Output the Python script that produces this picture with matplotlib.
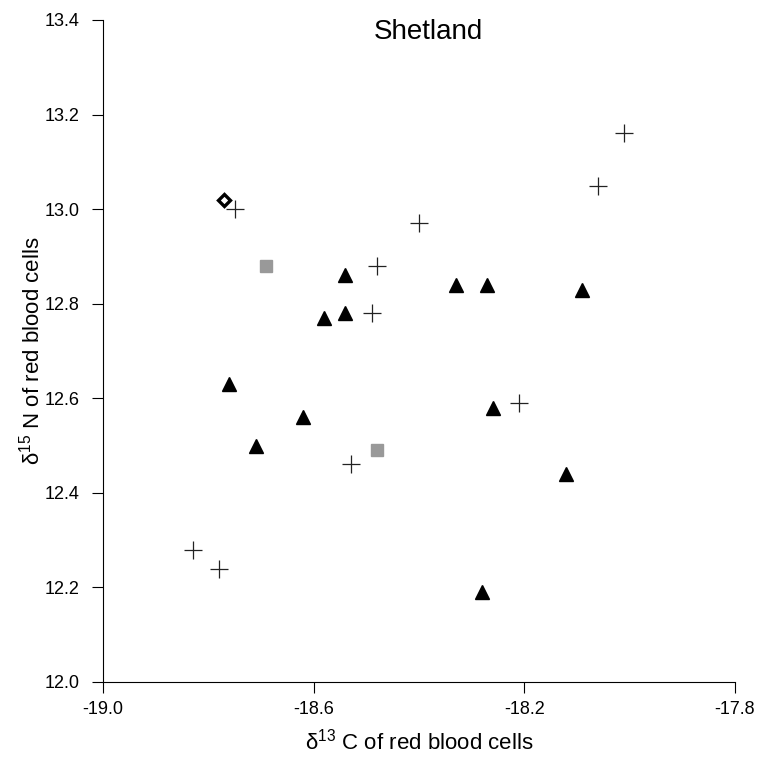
import numpy as np
import matplotlib
matplotlib.use('Agg')
import matplotlib.pyplot as plt

plt.rcParams['font.family'] = ['Liberation Sans', 'DejaVu Sans']
plt.rcParams['mathtext.fontset'] = 'custom'
plt.rcParams['mathtext.rm'] = 'Liberation Sans'

# plus markers
plus_x = [-18.75, -18.83, -18.78, -18.48, -18.49, -18.53, -18.40, -18.21, -18.06, -18.01]
plus_y = [13.00, 12.28, 12.24, 12.88, 12.78, 12.46, 12.97, 12.59, 13.05, 13.16]

# filled triangles
tri_x = [-18.76, -18.71, -18.62, -18.58, -18.54, -18.54, -18.33, -18.27, -18.26, -18.09, -18.12, -18.28]
tri_y = [12.63, 12.50, 12.56, 12.77, 12.78, 12.86, 12.84, 12.84, 12.58, 12.83, 12.44, 12.19]

# grey squares
sq_x = [-18.69, -18.48]
sq_y = [12.88, 12.49]

# open diamond
dia_x = [-18.77]
dia_y = [13.02]

xticks = [-19.0, -18.6, -18.2, -17.8]
yticks = [12.0, 12.2, 12.4, 12.6, 12.8, 13.0, 13.2, 13.4]

fig = plt.figure(figsize=(7.57, 7.78), dpi=100)
ax = fig.add_axes([103/757, 1-682/778, 632/757, 662/778])

ax.plot(plus_x, plus_y, linestyle='none', marker='+', markersize=13,
        markeredgewidth=0.9, color='#222222')
ax.plot(tri_x, tri_y, linestyle='none', marker='^', markersize=10.5,
        color='black')
ax.plot(sq_x, sq_y, linestyle='none', marker='s', markersize=8.5,
        color='#999999')
ax.plot(dia_x, dia_y, linestyle='none', marker='D', markersize=6.5,
        markerfacecolor='white', markeredgecolor='black', markeredgewidth=2.4)

ax.set_xlim(-19.0, -17.8)
ax.set_ylim(12.0, 13.4)
ax.set_xticks(xticks)
ax.set_xticklabels(['%.1f' % v for v in xticks])
ax.set_yticks(yticks)
ax.set_yticklabels(['%.1f' % v for v in yticks])

ax.spines['top'].set_visible(False)
ax.spines['right'].set_visible(False)
ax.tick_params(direction='out', length=8, width=0.8, labelsize=13, pad=6)
ax.tick_params(axis='y', pad=9)

ax.set_xlabel(r'$\mathregular{\delta^{13}}$ C of red blood cells', fontsize=16, labelpad=7)
ax.set_ylabel(r'$\mathregular{\delta^{15}}$ N of red blood cells', fontsize=16, labelpad=0)

fig.text(428/757, 1-32/778, 'Shetland', fontsize=20, ha='center', va='center')

fig.savefig('out.png', dpi=100)
